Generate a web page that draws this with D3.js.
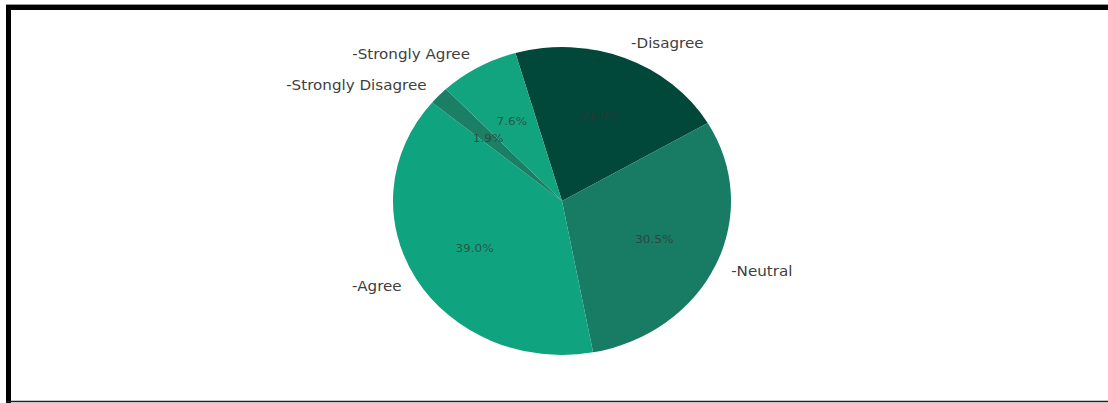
<!DOCTYPE html>
<html>
<head>
<meta charset="utf-8">
<script src="https://cdn.jsdelivr.net/npm/d3@7"></script>
<style>
  html, body { margin: 0; padding: 0; background: #fff; }
  svg { display: block; }
</style>
</head>
<body>
<svg id="chart" width="1108" height="403"></svg>
<script>
// Survey responses (share of respondents, %)
const categories = ["-Disagree", "-Neutral", "-Agree", "-Strongly Disagree", "-Strongly Agree"];
const values = [21.0, 30.5, 39.0, 1.9, 7.6];
const colors = ["#02483a", "#187b63", "#10a37f", "#1b7f65", "#12a47f"];

const W = 1108, H = 403;
const svg = d3.select("#chart");

// Frame around the figure
svg.append("line").attr("x1", 6).attr("x2", W).attr("y1", 4.5).attr("y2", 4.5)
  .attr("stroke", "#9a9a9a").attr("stroke-width", 1);
svg.append("path")
  .attr("d", `M8.5,${H} L8.5,7.5 L${W},7.5`)
  .attr("fill", "none").attr("stroke", "#000").attr("stroke-width", 5);
svg.append("line").attr("x1", 6).attr("x2", W).attr("y1", 401.5).attr("y2", 401.5)
  .attr("stroke", "#222").attr("stroke-width", 1.6);

// Pie geometry (slightly wider than tall)
const cx = 562, cy = 201, r = 154, kx = 169 / 154;
const startDeg = -16;

const pie = d3.pie().sort(null).value(d => d)
  .startAngle(startDeg * Math.PI / 180)
  .endAngle((startDeg + 360) * Math.PI / 180);
const arcs = pie(values);
const arc = d3.arc().innerRadius(0).outerRadius(r);

const g = svg.append("g").attr("transform", `translate(${cx},${cy})`);
const pieG = g.append("g").attr("transform", `scale(${kx},1)`);

pieG.selectAll("path.slice").data(arcs).join("path")
  .attr("class", "slice")
  .attr("d", arc)
  .attr("fill", (d, i) => colors[i]);

function polar(a, rr) {
  return [kx * rr * Math.sin(a), -rr * Math.cos(a)];
}

// Percentage labels inside the slices
const fmt = d3.format(".1f");
g.selectAll("g.pct").data(arcs).join("g")
  .attr("class", "pct")
  .attr("transform", d => {
    const [x, y] = polar((d.startAngle + d.endAngle) / 2, 0.6 * r);
    return `translate(${x},${y}) scale(${kx},1)`;
  })
  .append("text")
  .attr("text-anchor", "middle")
  .attr("dominant-baseline", "central")
  .attr("font-family", "DejaVu Sans, sans-serif")
  .attr("font-size", 11)
  .attr("fill", "#333")
  .attr("fill-opacity", 0.72)
  .text(d => fmt(d.value) + "%");

// Category labels outside the pie
g.selectAll("g.lbl").data(arcs).join("g")
  .attr("class", "lbl")
  .attr("transform", d => {
    const [x, y] = polar((d.startAngle + d.endAngle) / 2, 1.1 * r);
    return `translate(${x},${y}) scale(${kx},1)`;
  })
  .append("text")
  .attr("text-anchor", d => Math.sin((d.startAngle + d.endAngle) / 2) >= 0 ? "start" : "end")
  .attr("dominant-baseline", "central")
  .attr("font-family", "DejaVu Sans, sans-serif")
  .attr("font-size", 13.8)
  .attr("fill", "#404040")
  .text((d, i) => categories[i]);
</script>
</body>
</html>
